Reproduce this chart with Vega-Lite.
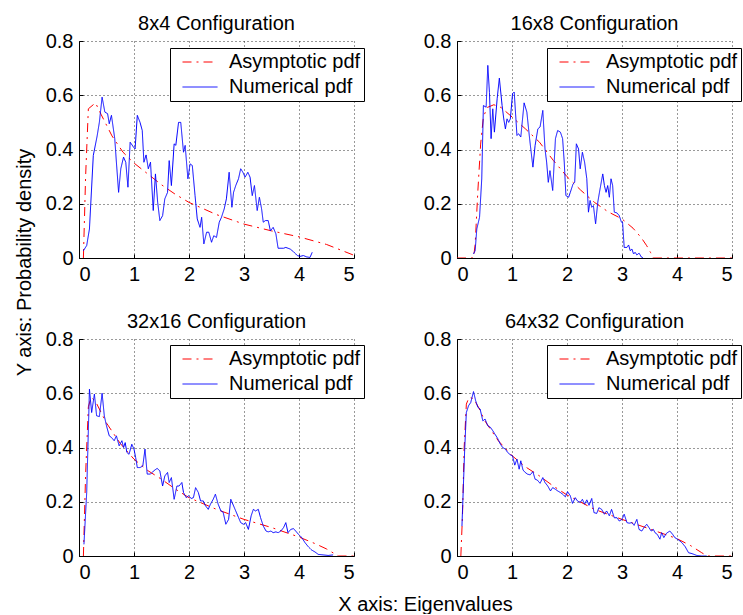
{
  "$schema": "https://vega.github.io/schema/vega-lite/v6.json",
  "padding": {"left": 14, "top": 14, "right": 0, "bottom": 0},
  "background": "white",
  "bounds": "flush",
  "columns": 2,
  "spacing": {"row": 81, "column": 103},
  "config": {
    "font": "Liberation Sans",
    "view": {"stroke": null},
    "title": {"fontSize": 20, "fontWeight": "normal", "color": "black", "baseline": "alphabetic", "offset": -3, "frame": "group", "font": "Liberation Sans"},
    "axis": {
      "domainColor": "black", "domainWidth": 1,
      "tickColor": "black", "tickSize": -4,
      "labelFont": "Liberation Sans", "labelFontSize": 20, "labelColor": "black", "labelPadding": 10,
      "gridColor": "black", "gridDash": [1, 3], "gridOpacity": 0.8, "gridWidth": 1,
      "titleFont": "Liberation Sans", "titleFontSize": 20, "titleFontWeight": "normal", "titleColor": "black"
    },
    "legend": {
      "title": null, "labelFont": "Liberation Sans", "labelFontSize": 20, "labelColor": "black",
      "symbolType": "M-1.75,0H1.75", "symbolSize": 400, "symbolStrokeWidth": 1,
      "labelOffset": 18.5, "symbolOffset": 16, "padding": 3.5, "rowPadding": 4,
      "strokeColor": "black", "fillColor": "white", "cornerRadius": 0
    }
  },
  "datasets": {
    "p1": [
      {"s":"Asymptotic pdf","x":0.08,"y":0},{"s":"Asymptotic pdf","x":0.12,"y":0.3},{"s":"Asymptotic pdf","x":0.17,"y":0.55},{"s":"Asymptotic pdf","x":0.3,"y":0.572},{"s":"Asymptotic pdf","x":0.4,"y":0.53},{"s":"Asymptotic pdf","x":0.5,"y":0.49},{"s":"Asymptotic pdf","x":0.6,"y":0.45},{"s":"Asymptotic pdf","x":0.8,"y":0.39},{"s":"Asymptotic pdf","x":1.0,"y":0.35},{"s":"Asymptotic pdf","x":1.25,"y":0.31},{"s":"Asymptotic pdf","x":1.5,"y":0.27},{"s":"Asymptotic pdf","x":1.75,"y":0.235},{"s":"Asymptotic pdf","x":2.0,"y":0.205},{"s":"Asymptotic pdf","x":2.5,"y":0.16},{"s":"Asymptotic pdf","x":3.0,"y":0.125},{"s":"Asymptotic pdf","x":3.5,"y":0.1},{"s":"Asymptotic pdf","x":4.0,"y":0.078},{"s":"Asymptotic pdf","x":4.5,"y":0.05},{"s":"Asymptotic pdf","x":5.0,"y":0.01},
      {"s":"Numerical pdf","x":0.08,"y":0.027},{"s":"Numerical pdf","x":0.14,"y":0.046},{"s":"Numerical pdf","x":0.19,"y":0.107},{"s":"Numerical pdf","x":0.26,"y":0.378},{"s":"Numerical pdf","x":0.33,"y":0.45},{"s":"Numerical pdf","x":0.37,"y":0.5},{"s":"Numerical pdf","x":0.42,"y":0.593},{"s":"Numerical pdf","x":0.47,"y":0.538},{"s":"Numerical pdf","x":0.52,"y":0.532},{"s":"Numerical pdf","x":0.55,"y":0.495},{"s":"Numerical pdf","x":0.59,"y":0.526},{"s":"Numerical pdf","x":0.65,"y":0.44},{"s":"Numerical pdf","x":0.68,"y":0.353},{"s":"Numerical pdf","x":0.72,"y":0.242},{"s":"Numerical pdf","x":0.76,"y":0.329},{"s":"Numerical pdf","x":0.81,"y":0.372},{"s":"Numerical pdf","x":0.85,"y":0.353},{"s":"Numerical pdf","x":0.89,"y":0.261},{"s":"Numerical pdf","x":0.93,"y":0.427},{"s":"Numerical pdf","x":0.99,"y":0.409},{"s":"Numerical pdf","x":1.02,"y":0.402},{"s":"Numerical pdf","x":1.06,"y":0.526},{"s":"Numerical pdf","x":1.11,"y":0.5},{"s":"Numerical pdf","x":1.15,"y":0.47},{"s":"Numerical pdf","x":1.18,"y":0.353},{"s":"Numerical pdf","x":1.22,"y":0.38},{"s":"Numerical pdf","x":1.26,"y":0.329},{"s":"Numerical pdf","x":1.3,"y":0.353},{"s":"Numerical pdf","x":1.35,"y":0.175},{"s":"Numerical pdf","x":1.39,"y":0.31},{"s":"Numerical pdf","x":1.43,"y":0.206},{"s":"Numerical pdf","x":1.47,"y":0.138},{"s":"Numerical pdf","x":1.52,"y":0.156},{"s":"Numerical pdf","x":1.56,"y":0.218},{"s":"Numerical pdf","x":1.61,"y":0.242},{"s":"Numerical pdf","x":1.64,"y":0.359},{"s":"Numerical pdf","x":1.68,"y":0.267},{"s":"Numerical pdf","x":1.73,"y":0.421},{"s":"Numerical pdf","x":1.76,"y":0.415},{"s":"Numerical pdf","x":1.81,"y":0.5},{"s":"Numerical pdf","x":1.85,"y":0.5},{"s":"Numerical pdf","x":1.9,"y":0.39},{"s":"Numerical pdf","x":1.93,"y":0.415},{"s":"Numerical pdf","x":1.98,"y":0.292},{"s":"Numerical pdf","x":2.02,"y":0.347},{"s":"Numerical pdf","x":2.06,"y":0.341},{"s":"Numerical pdf","x":2.11,"y":0.23},{"s":"Numerical pdf","x":2.15,"y":0.144},{"s":"Numerical pdf","x":2.2,"y":0.113},{"s":"Numerical pdf","x":2.23,"y":0.15},{"s":"Numerical pdf","x":2.27,"y":0.052},{"s":"Numerical pdf","x":2.32,"y":0.095},{"s":"Numerical pdf","x":2.36,"y":0.095},{"s":"Numerical pdf","x":2.41,"y":0.058},{"s":"Numerical pdf","x":2.45,"y":0.082},{"s":"Numerical pdf","x":2.5,"y":0.076},{"s":"Numerical pdf","x":2.55,"y":0.132},{"s":"Numerical pdf","x":2.59,"y":0.15},{"s":"Numerical pdf","x":2.64,"y":0.181},{"s":"Numerical pdf","x":2.68,"y":0.218},{"s":"Numerical pdf","x":2.73,"y":0.316},{"s":"Numerical pdf","x":2.78,"y":0.187},{"s":"Numerical pdf","x":2.81,"y":0.242},{"s":"Numerical pdf","x":2.85,"y":0.267},{"s":"Numerical pdf","x":2.9,"y":0.292},{"s":"Numerical pdf","x":2.94,"y":0.329},{"s":"Numerical pdf","x":2.98,"y":0.316},{"s":"Numerical pdf","x":3.02,"y":0.298},{"s":"Numerical pdf","x":3.07,"y":0.316},{"s":"Numerical pdf","x":3.11,"y":0.298},{"s":"Numerical pdf","x":3.15,"y":0.23},{"s":"Numerical pdf","x":3.19,"y":0.267},{"s":"Numerical pdf","x":3.24,"y":0.175},{"s":"Numerical pdf","x":3.28,"y":0.224},{"s":"Numerical pdf","x":3.32,"y":0.181},{"s":"Numerical pdf","x":3.35,"y":0.132},{"s":"Numerical pdf","x":3.39,"y":0.138},{"s":"Numerical pdf","x":3.44,"y":0.138},{"s":"Numerical pdf","x":3.48,"y":0.1},{"s":"Numerical pdf","x":3.53,"y":0.113},{"s":"Numerical pdf","x":3.58,"y":0.089},{"s":"Numerical pdf","x":3.62,"y":0.036},{"s":"Numerical pdf","x":3.72,"y":0.036},{"s":"Numerical pdf","x":3.76,"y":0.039},{"s":"Numerical pdf","x":3.84,"y":0.033},{"s":"Numerical pdf","x":3.9,"y":0.023},{"s":"Numerical pdf","x":3.97,"y":0.009},{"s":"Numerical pdf","x":4.02,"y":0.006},{"s":"Numerical pdf","x":4.08,"y":0.009},{"s":"Numerical pdf","x":4.14,"y":0.004},{"s":"Numerical pdf","x":4.2,"y":0.002},{"s":"Numerical pdf","x":4.24,"y":0.021}
    ],
    "p2": [
      {"s":"Asymptotic pdf","x":0,"y":0},{"s":"Asymptotic pdf","x":0.3,"y":0},{"s":"Asymptotic pdf","x":0.33,"y":0.05},{"s":"Asymptotic pdf","x":0.38,"y":0.25},{"s":"Asymptotic pdf","x":0.43,"y":0.42},{"s":"Asymptotic pdf","x":0.48,"y":0.52},{"s":"Asymptotic pdf","x":0.55,"y":0.555},{"s":"Asymptotic pdf","x":0.67,"y":0.565},{"s":"Asymptotic pdf","x":0.8,"y":0.555},{"s":"Asymptotic pdf","x":1.0,"y":0.52},{"s":"Asymptotic pdf","x":1.25,"y":0.475},{"s":"Asymptotic pdf","x":1.5,"y":0.427},{"s":"Asymptotic pdf","x":1.75,"y":0.36},{"s":"Asymptotic pdf","x":2.0,"y":0.3},{"s":"Asymptotic pdf","x":2.25,"y":0.25},{"s":"Asymptotic pdf","x":2.5,"y":0.205},{"s":"Asymptotic pdf","x":2.75,"y":0.17},{"s":"Asymptotic pdf","x":3.0,"y":0.144},{"s":"Asymptotic pdf","x":3.2,"y":0.11},{"s":"Asymptotic pdf","x":3.35,"y":0.075},{"s":"Asymptotic pdf","x":3.45,"y":0.045},{"s":"Asymptotic pdf","x":3.52,"y":0.02},{"s":"Asymptotic pdf","x":3.57,"y":0},{"s":"Asymptotic pdf","x":5,"y":0},
      {"s":"Numerical pdf","x":0.3,"y":0.015},{"s":"Numerical pdf","x":0.33,"y":0.027},{"s":"Numerical pdf","x":0.36,"y":0.107},{"s":"Numerical pdf","x":0.41,"y":0.15},{"s":"Numerical pdf","x":0.45,"y":0.292},{"s":"Numerical pdf","x":0.48,"y":0.562},{"s":"Numerical pdf","x":0.53,"y":0.556},{"s":"Numerical pdf","x":0.56,"y":0.71},{"s":"Numerical pdf","x":0.59,"y":0.61},{"s":"Numerical pdf","x":0.62,"y":0.44},{"s":"Numerical pdf","x":0.65,"y":0.55},{"s":"Numerical pdf","x":0.68,"y":0.464},{"s":"Numerical pdf","x":0.73,"y":0.587},{"s":"Numerical pdf","x":0.77,"y":0.663},{"s":"Numerical pdf","x":0.82,"y":0.562},{"s":"Numerical pdf","x":0.85,"y":0.513},{"s":"Numerical pdf","x":0.88,"y":0.476},{"s":"Numerical pdf","x":0.91,"y":0.513},{"s":"Numerical pdf","x":0.94,"y":0.5},{"s":"Numerical pdf","x":0.97,"y":0.513},{"s":"Numerical pdf","x":1.01,"y":0.606},{"s":"Numerical pdf","x":1.04,"y":0.612},{"s":"Numerical pdf","x":1.09,"y":0.452},{"s":"Numerical pdf","x":1.12,"y":0.458},{"s":"Numerical pdf","x":1.16,"y":0.446},{"s":"Numerical pdf","x":1.22,"y":0.572},{"s":"Numerical pdf","x":1.27,"y":0.538},{"s":"Numerical pdf","x":1.32,"y":0.44},{"s":"Numerical pdf","x":1.38,"y":0.335},{"s":"Numerical pdf","x":1.42,"y":0.415},{"s":"Numerical pdf","x":1.47,"y":0.476},{"s":"Numerical pdf","x":1.51,"y":0.483},{"s":"Numerical pdf","x":1.56,"y":0.544},{"s":"Numerical pdf","x":1.6,"y":0.402},{"s":"Numerical pdf","x":1.63,"y":0.353},{"s":"Numerical pdf","x":1.66,"y":0.279},{"s":"Numerical pdf","x":1.69,"y":0.322},{"s":"Numerical pdf","x":1.74,"y":0.249},{"s":"Numerical pdf","x":1.79,"y":0.44},{"s":"Numerical pdf","x":1.83,"y":0.47},{"s":"Numerical pdf","x":1.88,"y":0.464},{"s":"Numerical pdf","x":1.92,"y":0.44},{"s":"Numerical pdf","x":1.95,"y":0.353},{"s":"Numerical pdf","x":1.98,"y":0.23},{"s":"Numerical pdf","x":2.03,"y":0.224},{"s":"Numerical pdf","x":2.06,"y":0.242},{"s":"Numerical pdf","x":2.11,"y":0.273},{"s":"Numerical pdf","x":2.14,"y":0.279},{"s":"Numerical pdf","x":2.17,"y":0.421},{"s":"Numerical pdf","x":2.21,"y":0.402},{"s":"Numerical pdf","x":2.24,"y":0.329},{"s":"Numerical pdf","x":2.28,"y":0.39},{"s":"Numerical pdf","x":2.32,"y":0.353},{"s":"Numerical pdf","x":2.36,"y":0.292},{"s":"Numerical pdf","x":2.39,"y":0.169},{"s":"Numerical pdf","x":2.42,"y":0.212},{"s":"Numerical pdf","x":2.45,"y":0.187},{"s":"Numerical pdf","x":2.48,"y":0.193},{"s":"Numerical pdf","x":2.52,"y":0.126},{"s":"Numerical pdf","x":2.56,"y":0.206},{"s":"Numerical pdf","x":2.59,"y":0.242},{"s":"Numerical pdf","x":2.65,"y":0.31},{"s":"Numerical pdf","x":2.68,"y":0.267},{"s":"Numerical pdf","x":2.71,"y":0.242},{"s":"Numerical pdf","x":2.74,"y":0.267},{"s":"Numerical pdf","x":2.77,"y":0.224},{"s":"Numerical pdf","x":2.8,"y":0.292},{"s":"Numerical pdf","x":2.83,"y":0.267},{"s":"Numerical pdf","x":2.86,"y":0.169},{"s":"Numerical pdf","x":2.91,"y":0.166},{"s":"Numerical pdf","x":2.95,"y":0.156},{"s":"Numerical pdf","x":2.99,"y":0.132},{"s":"Numerical pdf","x":3.01,"y":0.132},{"s":"Numerical pdf","x":3.04,"y":0.039},{"s":"Numerical pdf","x":3.09,"y":0.039},{"s":"Numerical pdf","x":3.12,"y":0.048},{"s":"Numerical pdf","x":3.15,"y":0.027},{"s":"Numerical pdf","x":3.18,"y":0.033},{"s":"Numerical pdf","x":3.21,"y":0.015},{"s":"Numerical pdf","x":3.24,"y":0.021},{"s":"Numerical pdf","x":3.27,"y":0.011},{"s":"Numerical pdf","x":3.31,"y":0.018},{"s":"Numerical pdf","x":3.35,"y":0.004},{"s":"Numerical pdf","x":3.38,"y":0.001}
    ],
    "p3": [
      {"s":"Asymptotic pdf","x":0.08,"y":0},{"s":"Asymptotic pdf","x":0.12,"y":0.3},{"s":"Asymptotic pdf","x":0.17,"y":0.55},{"s":"Asymptotic pdf","x":0.22,"y":0.585},{"s":"Asymptotic pdf","x":0.3,"y":0.57},{"s":"Asymptotic pdf","x":0.4,"y":0.53},{"s":"Asymptotic pdf","x":0.5,"y":0.49},{"s":"Asymptotic pdf","x":0.75,"y":0.415},{"s":"Asymptotic pdf","x":1.0,"y":0.357},{"s":"Asymptotic pdf","x":1.25,"y":0.315},{"s":"Asymptotic pdf","x":1.5,"y":0.283},{"s":"Asymptotic pdf","x":1.75,"y":0.247},{"s":"Asymptotic pdf","x":2.0,"y":0.215},{"s":"Asymptotic pdf","x":2.5,"y":0.172},{"s":"Asymptotic pdf","x":3.0,"y":0.135},{"s":"Asymptotic pdf","x":3.5,"y":0.105},{"s":"Asymptotic pdf","x":4.0,"y":0.07},{"s":"Asymptotic pdf","x":4.3,"y":0.045},{"s":"Asymptotic pdf","x":4.5,"y":0.026},{"s":"Asymptotic pdf","x":4.65,"y":0.008},{"s":"Asymptotic pdf","x":4.72,"y":0},{"s":"Asymptotic pdf","x":5,"y":0},
      {"s":"Numerical pdf","x":0.09,"y":0.043},{"s":"Numerical pdf","x":0.14,"y":0.234},{"s":"Numerical pdf","x":0.19,"y":0.615},{"s":"Numerical pdf","x":0.23,"y":0.529},{"s":"Numerical pdf","x":0.28,"y":0.597},{"s":"Numerical pdf","x":0.32,"y":0.517},{"s":"Numerical pdf","x":0.37,"y":0.514},{"s":"Numerical pdf","x":0.42,"y":0.6},{"s":"Numerical pdf","x":0.46,"y":0.517},{"s":"Numerical pdf","x":0.5,"y":0.48},{"s":"Numerical pdf","x":0.55,"y":0.443},{"s":"Numerical pdf","x":0.59,"y":0.437},{"s":"Numerical pdf","x":0.64,"y":0.425},{"s":"Numerical pdf","x":0.68,"y":0.443},{"s":"Numerical pdf","x":0.73,"y":0.406},{"s":"Numerical pdf","x":0.78,"y":0.425},{"s":"Numerical pdf","x":0.81,"y":0.4},{"s":"Numerical pdf","x":0.84,"y":0.418},{"s":"Numerical pdf","x":0.87,"y":0.382},{"s":"Numerical pdf","x":0.91,"y":0.375},{"s":"Numerical pdf","x":0.96,"y":0.412},{"s":"Numerical pdf","x":1.0,"y":0.394},{"s":"Numerical pdf","x":1.03,"y":0.363},{"s":"Numerical pdf","x":1.06,"y":0.326},{"s":"Numerical pdf","x":1.11,"y":0.326},{"s":"Numerical pdf","x":1.16,"y":0.332},{"s":"Numerical pdf","x":1.2,"y":0.394},{"s":"Numerical pdf","x":1.24,"y":0.302},{"s":"Numerical pdf","x":1.3,"y":0.302},{"s":"Numerical pdf","x":1.36,"y":0.314},{"s":"Numerical pdf","x":1.42,"y":0.323},{"s":"Numerical pdf","x":1.47,"y":0.314},{"s":"Numerical pdf","x":1.52,"y":0.258},{"s":"Numerical pdf","x":1.56,"y":0.295},{"s":"Numerical pdf","x":1.61,"y":0.308},{"s":"Numerical pdf","x":1.64,"y":0.271},{"s":"Numerical pdf","x":1.68,"y":0.289},{"s":"Numerical pdf","x":1.73,"y":0.209},{"s":"Numerical pdf","x":1.78,"y":0.258},{"s":"Numerical pdf","x":1.82,"y":0.258},{"s":"Numerical pdf","x":1.87,"y":0.271},{"s":"Numerical pdf","x":1.9,"y":0.234},{"s":"Numerical pdf","x":1.95,"y":0.215},{"s":"Numerical pdf","x":1.99,"y":0.222},{"s":"Numerical pdf","x":2.04,"y":0.212},{"s":"Numerical pdf","x":2.08,"y":0.215},{"s":"Numerical pdf","x":2.12,"y":0.252},{"s":"Numerical pdf","x":2.17,"y":0.234},{"s":"Numerical pdf","x":2.21,"y":0.203},{"s":"Numerical pdf","x":2.26,"y":0.203},{"s":"Numerical pdf","x":2.3,"y":0.185},{"s":"Numerical pdf","x":2.35,"y":0.172},{"s":"Numerical pdf","x":2.39,"y":0.191},{"s":"Numerical pdf","x":2.44,"y":0.209},{"s":"Numerical pdf","x":2.48,"y":0.228},{"s":"Numerical pdf","x":2.53,"y":0.191},{"s":"Numerical pdf","x":2.58,"y":0.166},{"s":"Numerical pdf","x":2.62,"y":0.162},{"s":"Numerical pdf","x":2.67,"y":0.117},{"s":"Numerical pdf","x":2.72,"y":0.135},{"s":"Numerical pdf","x":2.76,"y":0.209},{"s":"Numerical pdf","x":2.81,"y":0.185},{"s":"Numerical pdf","x":2.85,"y":0.166},{"s":"Numerical pdf","x":2.9,"y":0.142},{"s":"Numerical pdf","x":2.94,"y":0.123},{"s":"Numerical pdf","x":2.99,"y":0.117},{"s":"Numerical pdf","x":3.03,"y":0.123},{"s":"Numerical pdf","x":3.08,"y":0.098},{"s":"Numerical pdf","x":3.13,"y":0.148},{"s":"Numerical pdf","x":3.17,"y":0.172},{"s":"Numerical pdf","x":3.21,"y":0.166},{"s":"Numerical pdf","x":3.26,"y":0.172},{"s":"Numerical pdf","x":3.3,"y":0.142},{"s":"Numerical pdf","x":3.35,"y":0.111},{"s":"Numerical pdf","x":3.4,"y":0.092},{"s":"Numerical pdf","x":3.44,"y":0.089},{"s":"Numerical pdf","x":3.49,"y":0.092},{"s":"Numerical pdf","x":3.53,"y":0.086},{"s":"Numerical pdf","x":3.58,"y":0.089},{"s":"Numerical pdf","x":3.62,"y":0.086},{"s":"Numerical pdf","x":3.67,"y":0.092},{"s":"Numerical pdf","x":3.72,"y":0.105},{"s":"Numerical pdf","x":3.76,"y":0.123},{"s":"Numerical pdf","x":3.8,"y":0.086},{"s":"Numerical pdf","x":3.85,"y":0.098},{"s":"Numerical pdf","x":3.9,"y":0.101},{"s":"Numerical pdf","x":3.94,"y":0.092},{"s":"Numerical pdf","x":3.99,"y":0.08},{"s":"Numerical pdf","x":4.05,"y":0.068},{"s":"Numerical pdf","x":4.11,"y":0.049},{"s":"Numerical pdf","x":4.17,"y":0.034},{"s":"Numerical pdf","x":4.23,"y":0.022},{"s":"Numerical pdf","x":4.29,"y":0.015},{"s":"Numerical pdf","x":4.35,"y":0.006},{"s":"Numerical pdf","x":4.44,"y":0.004},{"s":"Numerical pdf","x":4.53,"y":0.002},{"s":"Numerical pdf","x":4.62,"y":0.004}
    ],
    "p4": [
      {"s":"Asymptotic pdf","x":0.07,"y":0},{"s":"Asymptotic pdf","x":0.1,"y":0.15},{"s":"Asymptotic pdf","x":0.13,"y":0.4},{"s":"Asymptotic pdf","x":0.17,"y":0.56},{"s":"Asymptotic pdf","x":0.22,"y":0.585},{"s":"Asymptotic pdf","x":0.3,"y":0.58},{"s":"Asymptotic pdf","x":0.4,"y":0.545},{"s":"Asymptotic pdf","x":0.5,"y":0.5},{"s":"Asymptotic pdf","x":0.75,"y":0.425},{"s":"Asymptotic pdf","x":1.0,"y":0.37},{"s":"Asymptotic pdf","x":1.25,"y":0.328},{"s":"Asymptotic pdf","x":1.5,"y":0.295},{"s":"Asymptotic pdf","x":1.75,"y":0.258},{"s":"Asymptotic pdf","x":2.0,"y":0.225},{"s":"Asymptotic pdf","x":2.5,"y":0.172},{"s":"Asymptotic pdf","x":3.0,"y":0.135},{"s":"Asymptotic pdf","x":3.5,"y":0.1},{"s":"Asymptotic pdf","x":4.0,"y":0.064},{"s":"Asymptotic pdf","x":4.25,"y":0.038},{"s":"Asymptotic pdf","x":4.45,"y":0.012},{"s":"Asymptotic pdf","x":4.55,"y":0},{"s":"Asymptotic pdf","x":5,"y":0},
      {"s":"Numerical pdf","x":0.09,"y":0.11},{"s":"Numerical pdf","x":0.14,"y":0.394},{"s":"Numerical pdf","x":0.17,"y":0.529},{"s":"Numerical pdf","x":0.21,"y":0.554},{"s":"Numerical pdf","x":0.25,"y":0.566},{"s":"Numerical pdf","x":0.3,"y":0.606},{"s":"Numerical pdf","x":0.34,"y":0.572},{"s":"Numerical pdf","x":0.38,"y":0.548},{"s":"Numerical pdf","x":0.42,"y":0.542},{"s":"Numerical pdf","x":0.47,"y":0.498},{"s":"Numerical pdf","x":0.51,"y":0.505},{"s":"Numerical pdf","x":0.56,"y":0.48},{"s":"Numerical pdf","x":0.61,"y":0.474},{"s":"Numerical pdf","x":0.65,"y":0.462},{"s":"Numerical pdf","x":0.7,"y":0.446},{"s":"Numerical pdf","x":0.74,"y":0.433},{"s":"Numerical pdf","x":0.79,"y":0.412},{"s":"Numerical pdf","x":0.83,"y":0.4},{"s":"Numerical pdf","x":0.88,"y":0.394},{"s":"Numerical pdf","x":0.92,"y":0.382},{"s":"Numerical pdf","x":0.97,"y":0.373},{"s":"Numerical pdf","x":1.01,"y":0.369},{"s":"Numerical pdf","x":1.05,"y":0.335},{"s":"Numerical pdf","x":1.09,"y":0.357},{"s":"Numerical pdf","x":1.13,"y":0.32},{"s":"Numerical pdf","x":1.16,"y":0.351},{"s":"Numerical pdf","x":1.2,"y":0.317},{"s":"Numerical pdf","x":1.24,"y":0.308},{"s":"Numerical pdf","x":1.28,"y":0.302},{"s":"Numerical pdf","x":1.33,"y":0.299},{"s":"Numerical pdf","x":1.38,"y":0.311},{"s":"Numerical pdf","x":1.42,"y":0.283},{"s":"Numerical pdf","x":1.46,"y":0.28},{"s":"Numerical pdf","x":1.51,"y":0.268},{"s":"Numerical pdf","x":1.56,"y":0.289},{"s":"Numerical pdf","x":1.6,"y":0.271},{"s":"Numerical pdf","x":1.65,"y":0.258},{"s":"Numerical pdf","x":1.7,"y":0.24},{"s":"Numerical pdf","x":1.74,"y":0.252},{"s":"Numerical pdf","x":1.79,"y":0.246},{"s":"Numerical pdf","x":1.83,"y":0.24},{"s":"Numerical pdf","x":1.88,"y":0.234},{"s":"Numerical pdf","x":1.92,"y":0.228},{"s":"Numerical pdf","x":1.97,"y":0.218},{"s":"Numerical pdf","x":2.01,"y":0.237},{"s":"Numerical pdf","x":2.06,"y":0.222},{"s":"Numerical pdf","x":2.1,"y":0.194},{"s":"Numerical pdf","x":2.15,"y":0.215},{"s":"Numerical pdf","x":2.19,"y":0.203},{"s":"Numerical pdf","x":2.24,"y":0.197},{"s":"Numerical pdf","x":2.28,"y":0.209},{"s":"Numerical pdf","x":2.32,"y":0.191},{"s":"Numerical pdf","x":2.36,"y":0.207},{"s":"Numerical pdf","x":2.4,"y":0.187},{"s":"Numerical pdf","x":2.45,"y":0.212},{"s":"Numerical pdf","x":2.49,"y":0.16},{"s":"Numerical pdf","x":2.54,"y":0.157},{"s":"Numerical pdf","x":2.58,"y":0.178},{"s":"Numerical pdf","x":2.63,"y":0.172},{"s":"Numerical pdf","x":2.68,"y":0.154},{"s":"Numerical pdf","x":2.72,"y":0.166},{"s":"Numerical pdf","x":2.77,"y":0.148},{"s":"Numerical pdf","x":2.81,"y":0.172},{"s":"Numerical pdf","x":2.86,"y":0.141},{"s":"Numerical pdf","x":2.91,"y":0.141},{"s":"Numerical pdf","x":2.95,"y":0.129},{"s":"Numerical pdf","x":3.0,"y":0.135},{"s":"Numerical pdf","x":3.04,"y":0.154},{"s":"Numerical pdf","x":3.09,"y":0.123},{"s":"Numerical pdf","x":3.13,"y":0.121},{"s":"Numerical pdf","x":3.18,"y":0.123},{"s":"Numerical pdf","x":3.22,"y":0.113},{"s":"Numerical pdf","x":3.27,"y":0.135},{"s":"Numerical pdf","x":3.31,"y":0.098},{"s":"Numerical pdf","x":3.36,"y":0.092},{"s":"Numerical pdf","x":3.4,"y":0.105},{"s":"Numerical pdf","x":3.45,"y":0.117},{"s":"Numerical pdf","x":3.49,"y":0.105},{"s":"Numerical pdf","x":3.53,"y":0.092},{"s":"Numerical pdf","x":3.57,"y":0.098},{"s":"Numerical pdf","x":3.6,"y":0.086},{"s":"Numerical pdf","x":3.64,"y":0.08},{"s":"Numerical pdf","x":3.69,"y":0.062},{"s":"Numerical pdf","x":3.72,"y":0.086},{"s":"Numerical pdf","x":3.76,"y":0.068},{"s":"Numerical pdf","x":3.81,"y":0.084},{"s":"Numerical pdf","x":3.87,"y":0.092},{"s":"Numerical pdf","x":3.92,"y":0.08},{"s":"Numerical pdf","x":3.96,"y":0.068},{"s":"Numerical pdf","x":4.03,"y":0.059},{"s":"Numerical pdf","x":4.09,"y":0.049},{"s":"Numerical pdf","x":4.15,"y":0.034},{"s":"Numerical pdf","x":4.21,"y":0.012},{"s":"Numerical pdf","x":4.27,"y":0.009},{"s":"Numerical pdf","x":4.36,"y":0.002},{"s":"Numerical pdf","x":4.45,"y":0},{"s":"Numerical pdf","x":4.54,"y":0}
    ]
  },
  "resolve": {
    "scale": {"color": "independent", "strokeDash": "independent"},
    "legend": {"color": "independent", "strokeDash": "independent"}
  },
  "concat": [
    {
      "title": "8x4 Configuration",
      "width": 275, "height": 217,
      "data": {"name": "p1"},
      "mark": {"type": "line", "strokeWidth": 1, "clip": true},
      "encoding": {
        "x": {"field": "x", "type": "quantitative", "scale": {"domain": [0, 5], "nice": false}, "axis": {"values": [0, 1, 2, 3, 4, 5], "title": null}},
        "y": {"field": "y", "type": "quantitative", "scale": {"domain": [0, 0.8], "nice": false}, "axis": {"values": [0, 0.2, 0.4, 0.6, 0.8], "format": "~g", "title": "Y axis: Probability density", "titleX": -55, "titleY": 221, "titleAngle": 270, "titleAlign": "center", "titleBaseline": "middle"}},
        "color": {"field": "s", "type": "nominal", "scale": {"domain": ["Asymptotic pdf", "Numerical pdf"], "range": ["#ff0000", "#0000ff"]}, "legend": {"orient": "none", "legendX": 91, "legendY": 7, "labelExpr": "datum.label + '  '"}},
        "strokeDash": {"field": "s", "type": "nominal", "scale": {"domain": ["Asymptotic pdf", "Numerical pdf"], "range": [[9, 5, 2, 5], [1, 0]]}, "legend": {"orient": "none", "legendX": 91, "legendY": 7, "labelExpr": "datum.label + '  '"}}
      }
    },
    {
      "title": "16x8 Configuration",
      "width": 275, "height": 217,
      "data": {"name": "p2"},
      "mark": {"type": "line", "strokeWidth": 1, "clip": true},
      "encoding": {
        "x": {"field": "x", "type": "quantitative", "scale": {"domain": [0, 5], "nice": false}, "axis": {"values": [0, 1, 2, 3, 4, 5], "title": null}},
        "y": {"field": "y", "type": "quantitative", "scale": {"domain": [0, 0.8], "nice": false}, "axis": {"values": [0, 0.2, 0.4, 0.6, 0.8], "format": "~g", "title": null}},
        "color": {"field": "s", "type": "nominal", "scale": {"domain": ["Asymptotic pdf", "Numerical pdf"], "range": ["#ff0000", "#0000ff"]}, "legend": {"orient": "none", "legendX": 90, "legendY": 7}},
        "strokeDash": {"field": "s", "type": "nominal", "scale": {"domain": ["Asymptotic pdf", "Numerical pdf"], "range": [[9, 5, 2, 5], [1, 0]]}, "legend": {"orient": "none", "legendX": 90, "legendY": 7}}
      }
    },
    {
      "title": "32x16 Configuration",
      "width": 275, "height": 217,
      "data": {"name": "p3"},
      "mark": {"type": "line", "strokeWidth": 1, "clip": true},
      "encoding": {
        "x": {"field": "x", "type": "quantitative", "scale": {"domain": [0, 5], "nice": false}, "axis": {"values": [0, 1, 2, 3, 4, 5], "title": "X axis: Eigenvalues", "titleX": 346, "titleY": 48, "titleAlign": "center", "titleBaseline": "middle"}},
        "y": {"field": "y", "type": "quantitative", "scale": {"domain": [0, 0.8], "nice": false}, "axis": {"values": [0, 0.2, 0.4, 0.6, 0.8], "format": "~g", "title": null}},
        "color": {"field": "s", "type": "nominal", "scale": {"domain": ["Asymptotic pdf", "Numerical pdf"], "range": ["#ff0000", "#0000ff"]}, "legend": {"orient": "none", "legendX": 91, "legendY": 6, "labelExpr": "datum.label + '  '"}},
        "strokeDash": {"field": "s", "type": "nominal", "scale": {"domain": ["Asymptotic pdf", "Numerical pdf"], "range": [[9, 5, 2, 5], [1, 0]]}, "legend": {"orient": "none", "legendX": 91, "legendY": 6, "labelExpr": "datum.label + '  '"}}
      }
    },
    {
      "title": "64x32 Configuration",
      "width": 275, "height": 217,
      "data": {"name": "p4"},
      "mark": {"type": "line", "strokeWidth": 1, "clip": true},
      "encoding": {
        "x": {"field": "x", "type": "quantitative", "scale": {"domain": [0, 5], "nice": false}, "axis": {"values": [0, 1, 2, 3, 4, 5], "title": null}},
        "y": {"field": "y", "type": "quantitative", "scale": {"domain": [0, 0.8], "nice": false}, "axis": {"values": [0, 0.2, 0.4, 0.6, 0.8], "format": "~g", "title": null}},
        "color": {"field": "s", "type": "nominal", "scale": {"domain": ["Asymptotic pdf", "Numerical pdf"], "range": ["#ff0000", "#0000ff"]}, "legend": {"orient": "none", "legendX": 90, "legendY": 6}},
        "strokeDash": {"field": "s", "type": "nominal", "scale": {"domain": ["Asymptotic pdf", "Numerical pdf"], "range": [[9, 5, 2, 5], [1, 0]]}, "legend": {"orient": "none", "legendX": 90, "legendY": 6}}
      }
    }
  ]
}
